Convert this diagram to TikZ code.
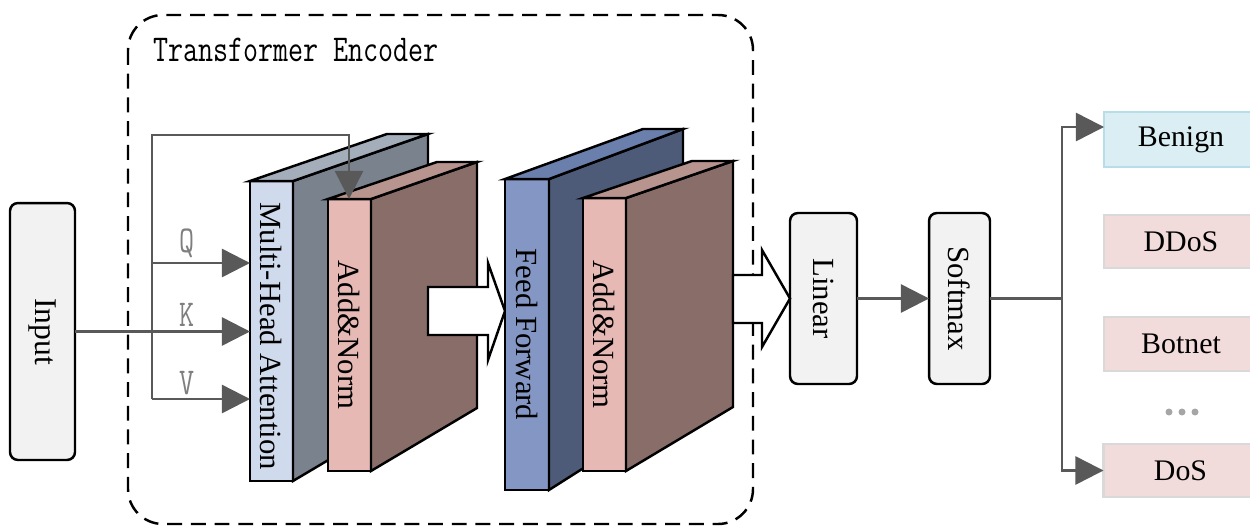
\documentclass[tikz,border=0pt]{standalone}
\usepackage{fontspec}
\setmainfont{Liberation Serif}
\usetikzlibrary{arrows.meta,calc}
\definecolor{gline}{HTML}{595959}
\definecolor{boxgray}{HTML}{F2F2F2}
\definecolor{mhfront}{HTML}{CFDAEC}
\definecolor{mhtop}{HTML}{A4AEBB}
\definecolor{mhside}{HTML}{7A828E}
\definecolor{fffront}{HTML}{8497C4}
\definecolor{fftop}{HTML}{6B7FAD}
\definecolor{ffside}{HTML}{4D5A78}
\definecolor{anfront}{HTML}{E6B9B5}
\definecolor{antop}{HTML}{B8948F}
\definecolor{anside}{HTML}{896D69}
\definecolor{benfill}{HTML}{DAEEF3}
\definecolor{benborder}{HTML}{B7DDE8}
\definecolor{atkfill}{HTML}{F2DCDB}
\definecolor{atkborder}{HTML}{D9D9D9}
\definecolor{qkvgray}{HTML}{7F7F7F}
\definecolor{dotgray}{HTML}{A6A6A6}
\newcommand\monotxt[1]{\scalebox{1}[1.3]{\ttfamily\fontsize{16.6}{18}\selectfont #1}}
\begin{document}
\begin{tikzpicture}[x=0.02cm,y=-0.02cm,
  gl/.style={draw=gline, line width=1.4pt},
  gar/.style={gl, -{Triangle[length=16pt,width=16pt]}, color=gline},
  edge/.style={draw=black, line width=1.4pt},
  face/.style={draw=black, line width=1.4pt, inner sep=0pt, outer sep=0pt},
  lbl/.style={inner sep=0pt, font=\fontsize{17.5}{20}\selectfont},
  rbox/.style={draw=black, line width=1.4pt, fill=boxgray, rounded corners=4.5pt, inner sep=0pt, outer sep=0pt, font=\fontsize{17}{20}\selectfont},
  cls/.style={line width=1.4pt, minimum width=3.08cm, inner sep=0pt, outer sep=0pt, font=\fontsize{17}{20}\selectfont},
  hollow/.style={draw=black, line width=1.4pt, fill=white},
  qkv/.style={inner sep=1pt, text=qkvgray, anchor=south}
]
\useasboundingbox (0,0) rectangle (1250,527);

% dashed encoder frame
\draw[line width=1.4pt, dash pattern=on 8.5pt off 5pt, rounded corners=0.7cm] (128,15) rectangle (753,524);
\node[anchor=west, inner sep=0pt] (title) at (153,50) {\monotxt{Transformer Encoder}};

% Input
\node[rbox, minimum width=1.3cm, minimum height=5.14cm] (input) at (42.5,331.5) {};
\node[lbl, rotate=-90, font=\fontsize{18}{20}\selectfont] (inputL) at (input.center) {Input};

% Multi-Head Attention block
\node[face, fill=mhfront, minimum width=0.86cm, minimum height=6cm] (mhF) at (271.5,331) {};
\draw[edge, fill=mhside] (mhF.north east) -- (428,134) -- (428,401) -- (mhF.south east) -- cycle;
\draw[edge, fill=mhtop] (mhF.north west) -- (387,134) -- (428,134) -- (mhF.north east) -- cycle;
\node[lbl, rotate=-90] (mhL) at ([yshift=-3pt]mhF.center) {Multi-Head Attention};

% Add&Norm 1
\node[face, fill=anfront, minimum width=0.86cm, minimum height=5.44cm] (an1F) at (349.5,335) {};
\draw[edge, fill=anside] (an1F.north east) -- (477,162) -- (477,408) -- (an1F.south east) -- cycle;
\draw[edge, fill=antop] (an1F.north west) -- (437,162) -- (477,162) -- (an1F.north east) -- cycle;
\node[lbl, rotate=-90] (an1L) at (an1F.center) {Add\&Norm};

% hollow arrow 1
\draw[hollow] (428,287) -- (488,287) -- (488,263) -- (505,311) -- (488,360) -- (488,335) -- (428,335) -- cycle;

% Feed Forward
\node[face, fill=fffront, minimum width=0.88cm, minimum height=6.22cm] (ffF) at (527,334.5) {};
\draw[edge, fill=ffside] (ffF.north east) -- (683,129) -- (683,405) -- (ffF.south east) -- cycle;
\draw[edge, fill=fftop] (ffF.north west) -- (643,129) -- (683,129) -- (ffF.north east) -- cycle;
\node[lbl, rotate=-90] (ffL) at (ffF.center) {Feed Forward};

% Add&Norm 2
\node[face, fill=anfront, minimum width=0.86cm, minimum height=5.46cm] (an2F) at (604.5,334.5) {};
\draw[edge, fill=anside] (an2F.north east) -- (733,161) -- (733,407) -- (an2F.south east) -- cycle;
\draw[edge, fill=antop] (an2F.north west) -- (692,161) -- (733,161) -- (an2F.north east) -- cycle;
\node[lbl, rotate=-90] (an2L) at (an2F.center) {Add\&Norm};

% Linear and Softmax
\node[rbox, minimum width=1.34cm, minimum height=3.42cm] (lin) at (823.5,298.5) {};
\node[lbl, rotate=-90] (linL) at (lin.center) {Linear};
\node[rbox, minimum width=1.22cm, minimum height=3.42cm] (sm) at (959.5,298.5) {};
\node[lbl, rotate=-90] (smL) at (sm.center) {Softmax};

% hollow arrow 2
\draw[hollow] (733,275) -- (762,275) -- (762,250) -- (lin.west) -- (762,347) -- (762,323) -- (733,323) -- cycle;

% Q K V and residual connections
\coordinate (ts) at (152,135);
\coordinate (qs) at (152,263);
\coordinate (vs) at (152,399);
\coordinate (tc) at (349,135);
\draw[gar] (input.east) -- (mhF.west |- input.east);
\draw[gar] (vs) -- (ts) -- (tc) -- (tc |- an1F.north);
\draw[gar] (qs) -- (mhF.west |- qs);
\draw[gar] (vs) -- (mhF.west |- vs);
\node[qkv] (qL) at (187,260) {\monotxt{Q}};
\node[qkv] (kL) at (187,329) {\monotxt{K}};
\node[qkv] (vL) at (187,397) {\monotxt{V}};

% classes
\node[cls, fill=benfill, draw=benborder, minimum height=1.1cm] (ben) at (1181,139.5) {Benign};
\node[cls, fill=atkfill, draw=atkborder, minimum height=1.06cm] (ddos) at (1181,241.5) {DDoS};
\node[cls, fill=atkfill, draw=atkborder, minimum height=1.08cm] (bot) at (1181,344) {Botnet};
\node[cls, fill=atkfill, draw=atkborder, minimum height=1.06cm] (dos) at (1180.5,470.5) {DoS};
\fill[dotgray] (1169,412) circle (3.5) (1182,412) circle (3.5) (1195,412) circle (3.5);

% output connectors
\draw[gar] (lin.east) -- (sm.west);
\coordinate (fork) at ($(sm.east)+(72,0)$);
\draw[gl] (sm.east) -- (fork);
\draw[gar] (fork) |- ([yshift=0.25cm]ben.west);
\draw[gar] (fork) |- (dos.west);
\end{tikzpicture}
\end{document}
